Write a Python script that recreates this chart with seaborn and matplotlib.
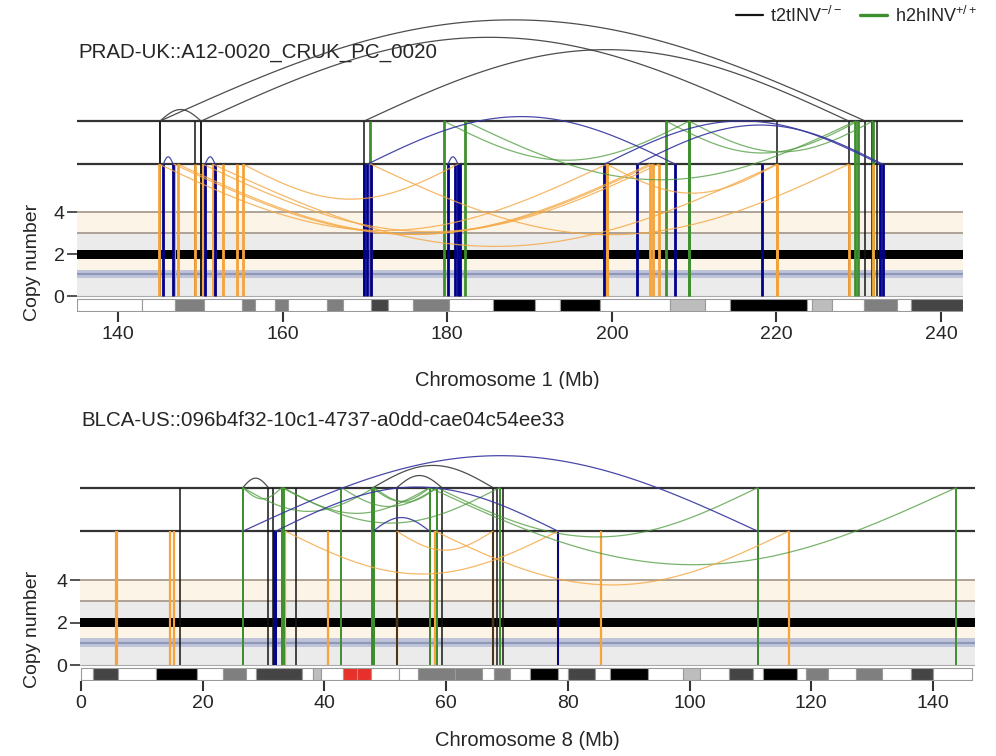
import numpy as np
import pandas as pd
import matplotlib
matplotlib.use("Agg")
import matplotlib.pyplot as plt
from matplotlib.lines import Line2D
import seaborn as sns

# ---- PRAD-UK::A12-0020_CRUK_PC_0020, chromosome 1 (Mb) ----
chr1_t2t = [(145.1, 150.1), (145.1, 230.8), (150.1, 220.1), (169.9, 228.8)]
chr1_t2t_single = [149.4, 231.6, 232.2]
chr1_h2h = [(179.6, 209.4), (182.2, 229.6), (206.6, 229.9), (209.4, 231.7)]
chr1_h2h_single = [170.6]
chr1_del = [(145.0, 199.4), (146.8, 204.6), (147.3, 205.0), (150.3, 205.7),
            (151.5, 220.1), (155.2, 181.3), (170.7, 228.8), (199.4, 220.1)]
chr1_del_single = [149.4, 151.8, 152.8, 154.5, 231.7]
chr1_dup = [(145.5, 146.7), (150.6, 151.8), (170.3, 207.7), (199.1, 232.6),
            (203.1, 232.9), (180.1, 181.3)]
chr1_dup_single = [169.9, 170.7, 181.0, 181.6, 218.3]
chr1_ticks = [140, 160, 180, 200, 220, 240]
chr1_bands = [(135.0, 142.9, "w"), (142.9, 146.9, "w"), (146.9, 150.4, "g2"),
              (150.4, 155.1, "w"), (155.1, 156.6, "g2"), (156.6, 159.1, "w"),
              (159.1, 160.7, "g2"), (160.7, 165.4, "w"), (165.4, 167.3, "g2"),
              (167.3, 170.8, "w"), (170.8, 172.8, "g3"), (172.8, 175.8, "w"),
              (175.8, 180.2, "g2"), (180.2, 185.6, "w"), (185.6, 190.7, "k"),
              (190.7, 193.7, "w"), (193.7, 198.6, "k"), (198.6, 207.1, "w"),
              (207.1, 211.3, "g1"), (211.3, 214.3, "w"), (214.3, 223.7, "k"),
              (223.7, 224.3, "w"), (224.3, 226.7, "g1"), (226.7, 230.6, "w"),
              (230.6, 234.6, "g2"), (234.6, 236.3, "w"), (236.3, 242.7, "g3")]

# ---- BLCA-US::096b4f32-..., chromosome 8 (Mb) ----
chr8_t2t = [(26.6, 30.8), (48.0, 67.7), (51.9, 59.3)]
chr8_t2t_single = [16.3, 31.6, 35.3, 68.3, 68.8, 69.3]
chr8_h2h = [(26.6, 33.0), (26.6, 48.2), (33.3, 57.3), (42.8, 58.5), (47.9, 57.3),
            (48.2, 58.5), (33.0, 68.8), (58.5, 111.2), (57.3, 143.8)]
chr8_h2h_single = []
chr8_del = [(33.6, 78.4), (58.2, 116.3), (51.9, 67.7)]
chr8_del_single = [5.8, 6.0, 14.6, 15.3, 40.6, 85.4]
chr8_dup = [(26.6, 111.2), (32.0, 78.4), (48.0, 57.3)]
chr8_dup_single = [31.7]
chr8_ticks = [0, 20, 40, 60, 80, 100, 120, 140]
chr8_bands = [(0.0, 2.0, "w"), (2.0, 6.1, "g3"), (6.1, 12.4, "w"), (12.4, 19.0, "k"),
              (19.0, 23.3, "w"), (23.3, 27.2, "g2"), (27.2, 28.8, "w"), (28.8, 36.4, "g3"),
              (36.4, 38.1, "w"), (38.1, 39.5, "g1"), (39.5, 43.0, "w"), (43.0, 45.3, "cen"),
              (45.3, 47.7, "cen"), (47.7, 52.3, "w"), (52.3, 55.3, "w"), (55.3, 61.5, "g2"),
              (61.5, 65.9, "g2"), (65.9, 67.9, "w"), (67.9, 70.5, "g2"), (70.5, 73.8, "w"),
              (73.8, 78.4, "k"), (78.4, 80.0, "w"), (80.0, 84.4, "g3"), (84.4, 86.9, "w"),
              (86.9, 93.2, "k"), (93.2, 98.9, "w"), (98.9, 101.7, "g1"), (101.7, 106.4, "w"),
              (106.4, 110.5, "g3"), (110.5, 112.1, "w"), (112.1, 117.6, "k"),
              (117.6, 119.2, "w"), (119.2, 122.7, "g2"), (122.7, 127.4, "w"),
              (127.4, 131.7, "g2"), (131.7, 136.4, "w"), (136.4, 140.0, "g3"),
              (140.0, 146.4, "w")]

stain_colors = {"w": "white", "g1": "#bdbdbd", "g2": "#7f7f7f", "g3": "#454545",
                "k": "black", "cen": "#e8302a"}

col = {"t2t": "#151515", "h2h": "#3f8f2f", "del": "#f5a33a", "dup": "#00008b"}
arc_col = {"t2t": "#3a3a3a", "h2h": "#4c9a3c", "del": "#f5a742", "dup": "#3535a0"}
arc_alpha = {"t2t": 0.9, "h2h": 0.75, "del": 0.8, "dup": 0.9}

LOW, HIGH = 6.3, 8.35
YMIN = -0.75
W, H = 996, 756

panels = [
    dict(rect=[0.0773, 0.587, 0.8896, 0.3931], xlim=(135.02, 242.67), ymax=13.4,
         title="PRAD-UK::A12-0020_CRUK_PC_0020", title_y=11.6,
         xlabel="Chromosome 1 (Mb)", xlab_pos=(0.486, -0.1975), ylab_pos=(-0.041, 0.169),
         ticks=chr1_ticks, bands=chr1_bands,
         t2t=chr1_t2t, t2t_s=chr1_t2t_single, h2h=chr1_h2h, h2h_s=chr1_h2h_single,
         dele=chr1_del, del_s=chr1_del_single, dup=chr1_dup, dup_s=chr1_dup_single,
         lw=dict(t2t=1.1, h2h=2.0, dele=2.0, dup=2.0), inv_on_top=False),
    dict(rect=[0.0803, 0.0992, 0.8986, 0.3865], xlim=(-0.16, 146.9), ymax=13.0,
         title="BLCA-US::096b4f32-10c1-4737-a0dd-cae04c54ee33", title_y=11.5,
         xlabel="Chromosome 8 (Mb)", xlab_pos=(0.4995, -0.171), ylab_pos=(-0.0436, 0.175),
         ticks=chr8_ticks, bands=chr8_bands,
         t2t=chr8_t2t, t2t_s=chr8_t2t_single, h2h=chr8_h2h, h2h_s=chr8_h2h_single,
         dele=chr8_del, del_s=chr8_del_single, dup=chr8_dup, dup_s=chr8_dup_single,
         lw=dict(t2t=1.1, h2h=1.4, dele=1.6, dup=1.4), inv_on_top=True),
]

sns.set_style("ticks")
plt.rcParams["font.family"] = ["Liberation Sans", "DejaVu Sans"]
plt.rcParams["mathtext.default"] = "regular"

fig = plt.figure(figsize=(W / 100, H / 100), dpi=100)


def arc_frame(pairs, base, sign, px_mb, px_unit):
    # arc height grows with the on-screen span of the rearrangement
    frames = []
    for i, (a, b) in enumerate(pairs):
        t = np.linspace(0, 1, 90)
        h = (0.135 * abs(b - a) * px_mb + 6) / px_unit
        frames.append(pd.DataFrame({"x": a + (b - a) * t,
                                    "y": base + sign * h * np.sin(np.pi * t),
                                    "arc": i}))
    return pd.concat(frames, ignore_index=True)


for p in panels:
    ax = fig.add_axes(p["rect"])
    x0, x1 = p["xlim"]
    ymax = p["ymax"]
    px_mb = p["rect"][2] * W / (x1 - x0)
    px_unit = p["rect"][3] * H / (ymax - YMIN)

    # copy-number background
    ax.axhspan(0, 0.87, color="#ebebeb", lw=0, zorder=0)
    ax.axhspan(0.87, 1.27, color="#bfc4d8", lw=0, zorder=0)
    ax.axhline(1.06, color="#8f97ba", lw=1.6, zorder=0.5)
    ax.axhspan(1.27, 1.78, color="#fdf4e8", lw=0, zorder=0)
    ax.axhspan(1.78, 2.22, color="black", lw=0, zorder=0.5)
    ax.axhspan(2.22, 3.0, color="#ebebeb", lw=0, zorder=0)
    ax.axhspan(3.0, 4.0, color="#fdf4e8", lw=0, zorder=0)
    for lv in (3.0, 4.0):
        ax.axhline(lv, color="#a09585", lw=1.2, zorder=0.6)
    ax.axhline(0, color="#aaaaaa", lw=0.8, zorder=0.6)

    # ideogram
    b = p["bands"]
    ax.broken_barh([(s, e - s) for s, e, _ in b], (-0.71, 0.58),
                   facecolors=[stain_colors[c] for _, _, c in b],
                   edgecolor="#9a9a9a", lw=0.8, zorder=2)

    # SV tracks
    for lv in (LOW, HIGH):
        ax.axhline(lv, color="#333333", lw=1.6, zorder=3)

    z_inv, z_cn = (5, 4) if p["inv_on_top"] else (4, 5)
    for key, kind, top, z in [("t2t", "t2t", HIGH, z_inv), ("h2h", "h2h", HIGH, z_inv + 0.1),
                              ("dele", "del", LOW, z_cn), ("dup", "dup", LOW, z_cn + 0.1)]:
        pos = [v for pr in p[key] for v in pr] + p[key.replace("dele", "del") + "_s"]
        ax.vlines(pos, 0, top, colors=col[kind], lw=p["lw"][key], zorder=z)

    # arcs
    for key, kind, base, sign in [("t2t", "t2t", HIGH, 1), ("h2h", "h2h", HIGH, -1),
                                  ("dele", "del", LOW, -1), ("dup", "dup", LOW, 1)]:
        if not p[key]:
            continue
        df = arc_frame(p[key], base, sign, px_mb, px_unit)
        sns.lineplot(data=df, x="x", y="y", units="arc", estimator=None, sort=False,
                     color=arc_col[kind], alpha=arc_alpha[kind], lw=0.9, ax=ax,
                     legend=False, zorder=6)

    ax.set_xlim(x0, x1)
    ax.set_ylim(YMIN, ymax)
    sns.despine(ax=ax, left=True, bottom=True)
    ax.set_yticks([0, 2, 4])
    ax.set_xticks(p["ticks"])
    ax.tick_params(axis="y", length=7, width=1.2, color="#333333", pad=2, labelsize=14)
    ax.tick_params(axis="x", length=7, width=1.5, color="#333333", pad=3, labelsize=14)
    ax.set_xlabel(p["xlabel"], fontsize=14.5)
    ax.xaxis.set_label_coords(*p["xlab_pos"])
    ax.set_ylabel("Copy number", fontsize=14)
    ax.yaxis.set_label_coords(*p["ylab_pos"])
    ax.text(0.002, p["title_y"], p["title"], transform=ax.get_yaxis_transform(),
            fontsize=14.8, va="center", ha="left")

handles = [Line2D([], [], color=col["t2t"], lw=1.6), Line2D([], [], color=col["h2h"], lw=2.4)]
fig.legend(handles, [r"t2tINV$^{-/-}$", r"h2hINV$^{+/+}$"], loc="upper right",
           bbox_to_anchor=(0.997, 1.014), ncol=2, frameon=False, fontsize=13,
           handlelength=1.5, handletextpad=0.4, columnspacing=1.0)

fig.savefig("out.png", dpi=100)
